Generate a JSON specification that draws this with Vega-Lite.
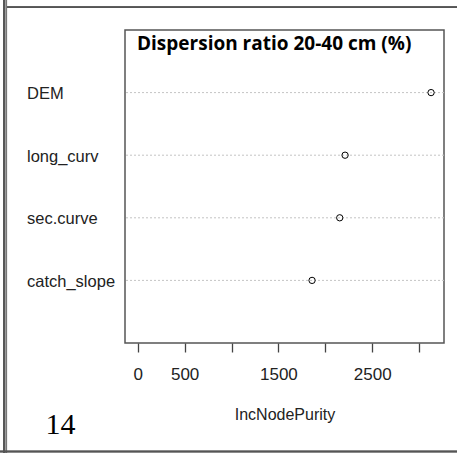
{
  "$schema": "https://vega.github.io/schema/vega-lite/v6.json",
  "width": 319,
  "height": 313,
  "autosize": "none",
  "padding": {"left": 125, "top": 30, "right": 13, "bottom": 110},
  "background": "white",
  "title": {
    "text": "Dispersion ratio 20-40 cm (%)",
    "anchor": "start",
    "frame": "group",
    "dx": 12,
    "offset": 0,
    "dy": 70,
    "baseline": "alphabetic",
    "font": "Open Sans",
    "fontWeight": "bold",
    "fontSize": 19,
    "color": "#000000"
  },
  "data": {
    "values": [
      {"variable": "DEM", "IncNodePurity": 3128},
      {"variable": "long_curv", "IncNodePurity": 2211},
      {"variable": "sec.curve", "IncNodePurity": 2154},
      {"variable": "catch_slope", "IncNodePurity": 1859}
    ]
  },
  "layer": [
    {
      "layer": [
        {
          "mark": {"type": "rule", "color": "#c4c4c4", "strokeWidth": 1, "strokeDash": [2, 2]},
          "encoding": {
            "y": {"field": "variable", "type": "nominal", "sort": null}
          }
        },
        {
          "mark": {"type": "point", "shape": "circle", "filled": false, "color": "#000000", "strokeWidth": 1, "size": 40, "opacity": 1},
          "encoding": {
            "x": {
              "field": "IncNodePurity",
              "type": "quantitative",
              "scale": {"domain": [-136, 3266], "nice": false, "zero": false},
              "axis": {
                "title": "IncNodePurity",
                "values": [0, 500, 1000, 1500, 2000, 2500, 3000],
                "format": "d",
                "labelExpr": "datum.value == 1000 || datum.value == 2000 || datum.value == 3000 ? '' : datum.label",
                "domain": false,
                "grid": false,
                "ticks": true,
                "tickSize": 9,
                "tickColor": "#444444",
                "tickWidth": 1.3,
                "labelPadding": 27,
                "labelBaseline": "alphabetic",
                "labelFont": "Liberation Sans",
                "labelFontSize": 17,
                "labelColor": "#222222",
                "labelFlush": false,
                "labelOverlap": false,
                "titleFont": "Liberation Sans",
                "titleFontSize": 16,
                "titleFontWeight": "normal",
                "titleColor": "#222222",
                "titleBaseline": "alphabetic",
                "titleY": 76
              }
            },
            "y": {
              "field": "variable",
              "type": "nominal",
              "sort": null,
              "scale": {"type": "point", "padding": 1},
              "axis": {
                "title": "14",
                "titleAngle": 0,
                "titleAlign": "left",
                "titleBaseline": "alphabetic",
                "titleX": -80,
                "titleY": 403,
                "titleFont": "Liberation Serif",
                "titleFontSize": 30,
                "titleFontWeight": "normal",
                "titleColor": "#000000",
                "domain": false,
                "ticks": false,
                "grid": false,
                "labelAlign": "left",
                "labelPadding": 98.5,
                "labelFont": "Liberation Sans",
                "labelFontSize": 16.5,
                "labelColor": "#222222",
                "labelBaseline": "middle",
                "labelOffset": 1
              }
            }
          }
        }
      ]
    },
    {
      "layer": [
        {
          "mark": {"type": "rule", "color": "#555555", "strokeWidth": 1.3},
          "encoding": {
            "x": {"datum": -1426, "type": "quantitative"},
            "y": {"datum": -0.4, "type": "quantitative", "scale": {"domain": [0, 1], "nice": false, "zero": false}, "axis": null},
            "y2": {"datum": 1.096}
          }
        },
        {
          "mark": {"type": "rule", "color": "#777777", "strokeWidth": 1.3},
          "encoding": {
            "x": {"datum": -1401, "type": "quantitative"},
            "y": {"datum": -0.4, "type": "quantitative"},
            "y2": {"datum": 1.096}
          }
        },
        {
          "mark": {"type": "rule", "color": "#555555", "strokeWidth": 1.3},
          "encoding": {
            "x": {"datum": -1394, "type": "quantitative"},
            "x2": {"datum": 3600},
            "y": {"datum": 1.0734, "type": "quantitative"}
          }
        },
        {
          "mark": {"type": "rule", "color": "#555555", "strokeWidth": 1.5},
          "encoding": {
            "x": {"datum": -1500, "type": "quantitative"},
            "x2": {"datum": 3600},
            "y": {"datum": -0.347, "type": "quantitative"}
          }
        }
      ]
    }
  ],
  "resolve": {"scale": {"y": "independent"}, "axis": {"y": "independent"}},
  "config": {
    "view": {"stroke": "#555555", "strokeWidth": 1.5},
    "axis": {"labelFont": "Liberation Sans"}
  }
}
